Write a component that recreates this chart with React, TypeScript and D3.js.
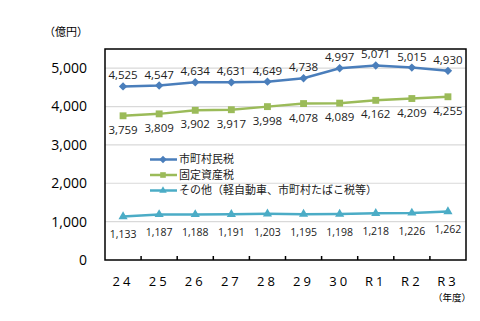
import React from "react";
import * as d3 from "d3";

const categories = ["24", "25", "26", "27", "28", "29", "30", "R1", "R2", "R3"];
const juminzei = [4525, 4547, 4634, 4631, 4649, 4738, 4997, 5071, 5015, 4930];
const koteishisanzei = [3759, 3809, 3902, 3917, 3998, 4078, 4089, 4162, 4209, 4255];
const sonota = [1133, 1187, 1188, 1191, 1203, 1195, 1198, 1218, 1226, 1262];
const yTicks = [0, 1000, 2000, 3000, 4000, 5000];
const seriesNames = ["市町村民税", "固定資産税", "その他（軽自動車、市町村たばこ税等）"];

const W = 480, H = 321;
const L = 105, R = 466, T = 49, B = 260;
const FONT = "'Open Sans', 'Noto Sans CJK JP', sans-serif";
const JFONT = "'Noto Sans CJK JP', sans-serif";

export default function App() {
  const x = d3.scaleBand<string>().domain(categories).range([L, R]).padding(0);
  const y = d3.scaleLinear().domain([0, 5500]).range([B, T]);
  const cx = (c: string) => (x(c) as number) + x.bandwidth() / 2;
  const fmt = d3.format(",");

  const series = [
    { name: seriesNames[0], values: juminzei, color: "#4a7ebb", marker: "diamond", dy: -11, lsize: 11.5 },
    { name: seriesNames[1], values: koteishisanzei, color: "#9bbb59", marker: "square", dy: 14, lsize: 11.5 },
    { name: seriesNames[2], values: sonota, color: "#4bacc6", marker: "triangle", dy: 18, lsize: 10.5 },
  ];

  const line = d3.line<number>().x((_, i) => cx(categories[i])).y((v) => y(v));

  const markerPath = (type: string, size: number) => {
    const sym = type === "diamond" ? d3.symbolDiamond2 : type === "square" ? d3.symbolSquare2 : d3.symbolTriangle2;
    return d3.symbol().type(sym).size(size)() as string;
  };

  return (
    <svg width={W} height={H} style={{ position: "absolute", left: 0, top: 0 }}>
      <rect width={W} height={H} fill="#fff" />
      {yTicks.filter((t) => t > 0).map((t) => (
        <line key={t} x1={L} x2={R} y1={y(t)} y2={y(t)} stroke="#d9d9d9" strokeWidth={1.2} />
      ))}
      {yTicks.map((t) => (
        <text key={t} x={87} y={y(t)} dy="0.35em" textAnchor="end" fontFamily={FONT} fontSize={14} fill="#000">
          {fmt(t)}
        </text>
      ))}
      <text x={66} y={32} dy="0.35em" textAnchor="middle" fontFamily={JFONT} fontSize={11} fill="#000">（億円）</text>
      {categories.slice(1).map((c) => (
        <line key={c} x1={x(c)} x2={x(c)} y1={B} y2={B - 4} stroke="#000" strokeWidth={1.5} />
      ))}
      {categories.map((c) => (
        <text key={c} x={cx(c)} y={281} dy="0.35em" textAnchor="middle" fontFamily={FONT} fontSize={13} letterSpacing={3} fill="#000">
          {c}
        </text>
      ))}
      <text x={452} y={298} dy="0.35em" textAnchor="middle" fontFamily={JFONT} fontSize={9.5} fill="#000">（年度）</text>
      <rect x={L} y={T} width={R - L} height={B - T} fill="none" stroke="#000" strokeWidth={1.5} />
      {series.map((s) => (
        <g key={s.name}>
          <path d={line(s.values) as string} fill="none" stroke={s.color} strokeWidth={2.5} />
          {s.values.map((v, i) => (
            <path key={i} d={markerPath(s.marker, s.marker === "diamond" ? 45 : 60)} transform={`translate(${cx(categories[i])},${y(v)})`} fill={s.color} />
          ))}
          {s.values.map((v, i) => (
            <text key={"t" + i} x={cx(categories[i])} y={y(v) + s.dy} dy="0.35em" textAnchor="middle" fontFamily={FONT} fontSize={s.lsize} fill="#222">
              {fmt(v)}
            </text>
          ))}
        </g>
      ))}
      {series.map((s, i) => {
        const ly = 159.5 + i * 15.5;
        return (
          <g key={"lg" + i}>
            <line x1={150} x2={177} y1={ly} y2={ly} stroke={s.color} strokeWidth={2.5} />
            <path d={markerPath(s.marker, s.marker === "diamond" ? 35 : 40)} transform={`translate(163,${ly})`} fill={s.color} />
            <text x={179} y={ly} dy="0.35em" fontFamily={JFONT} fontSize={11} fill="#222">{s.name}</text>
          </g>
        );
      })}
    </svg>
  );
}
